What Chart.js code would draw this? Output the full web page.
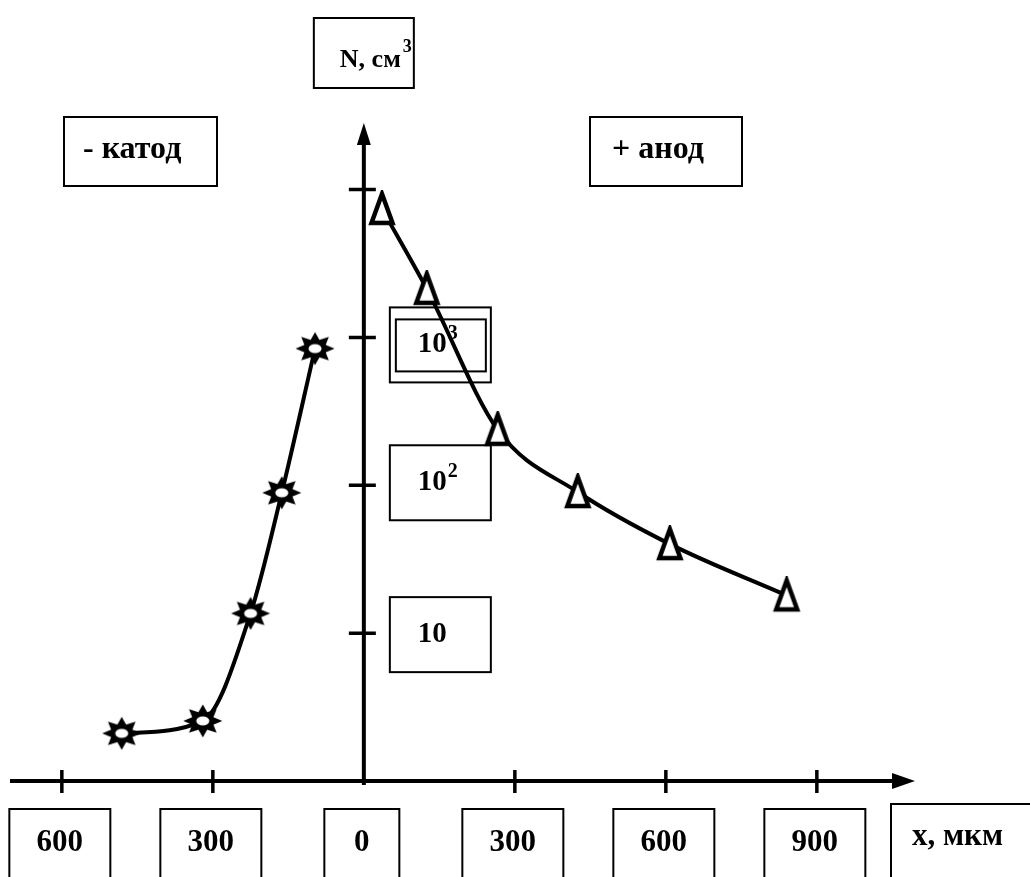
<!DOCTYPE html>
<html>
<head>
<meta charset="utf-8">
<script src="https://cdn.jsdelivr.net/npm/chart.js@4.4.0/dist/chart.umd.min.js"></script>
<style>
  html, body { margin: 0; padding: 0; background: #fff; }
  #wrap { width: 1030px; height: 877px; position: relative; }
</style>
</head>
<body>
<div id="wrap"><canvas id="chart"></canvas></div>
<script>
// x in мкм (cathode side is negative), N per cm3 (log axis)
const cathodeX = [-481, -320, -225, -163, -97];
const cathodeN = [2.1, 2.55, 13.6, 89, 840];
const anodeX = [36, 125, 266, 425, 608, 840];
const anodeN = [7400, 2130, 237, 90, 40, 18];

const xTickValues = [-600, -300, 0, 300, 600, 900];
const xTickLabels = ['600', '300', '0', '300', '600', '900'];
const yTickValues = [10, 100, 1000, 10000];
const yTickBase = ['10', '10', '10', ''];
const yTickExp = ['', '2', '3', ''];

const FONT = '"Liberation Serif", "Times New Roman", serif';

function makeStar() {
    const c = document.createElement('canvas');
    c.width = 46; c.height = 40;
    const g = c.getContext('2d');
    const cx = 23, cy = 20;
    g.beginPath();
    for (let i = 0; i < 16; i++) {
        const a = -Math.PI / 2 + i * Math.PI / 8;
        const rx = i % 2 ? 11.5 : 19.5, ry = i % 2 ? 9.5 : 16.5;
        const px = cx + rx * Math.cos(a), py = cy + ry * Math.sin(a);
        if (i) g.lineTo(px, py); else g.moveTo(px, py);
    }
    g.closePath();
    g.fillStyle = '#000';
    g.fill();
    g.beginPath();
    g.ellipse(cx, cy, 6.5, 4.5, 0, 0, 2 * Math.PI);
    g.fillStyle = '#fff';
    g.fill();
    return c;
}

function makeTriangle() {
    const c = document.createElement('canvas');
    c.width = 30; c.height = 38;
    const g = c.getContext('2d');
    g.beginPath();
    g.moveTo(15, 4); g.lineTo(4.5, 33); g.lineTo(25.5, 33);
    g.closePath();
    g.fillStyle = '#fff';
    g.fill();
    g.lineWidth = 4.5;
    g.strokeStyle = '#000';
    g.stroke();
    return c;
}

function box(ctx, x, y, w, h) {
    ctx.lineWidth = 2;
    ctx.strokeRect(x, y, w, h);
}

const decor = {
    id: 'decor',
    beforeDatasetsDraw(chart) {
        const ctx = chart.ctx;
        const xs = chart.scales.x, ys = chart.scales.y;
        const area = chart.chartArea;
        const x0 = xs.getPixelForValue(0);
        const yb = ys.getPixelForValue(ys.min);
        ctx.save();
        ctx.strokeStyle = '#000';
        ctx.fillStyle = '#000';

        // axes with arrows
        ctx.lineWidth = 4;
        ctx.beginPath();
        ctx.moveTo(area.left, yb); ctx.lineTo(area.right - 16, yb);
        ctx.moveTo(x0, yb + 4); ctx.lineTo(x0, area.top + 16);
        ctx.stroke();
        ctx.beginPath();
        ctx.moveTo(area.right, yb); ctx.lineTo(area.right - 23, yb - 8); ctx.lineTo(area.right - 23, yb + 8);
        ctx.closePath(); ctx.fill();
        ctx.beginPath();
        ctx.moveTo(x0, area.top); ctx.lineTo(x0 - 7, area.top + 22); ctx.lineTo(x0 + 7, area.top + 22);
        ctx.closePath(); ctx.fill();

        // tick marks
        ctx.lineWidth = 3.5;
        ctx.beginPath();
        xTickValues.forEach(v => {
            if (v === 0) return;
            const px = xs.getPixelForValue(v);
            ctx.moveTo(px, yb - 11); ctx.lineTo(px, yb + 12);
        });
        yTickValues.forEach(v => {
            const py = ys.getPixelForValue(v);
            ctx.moveTo(x0 - 15, py); ctx.lineTo(x0 + 12, py);
        });
        ctx.stroke();

        // x labels in boxes
        ctx.textBaseline = 'alphabetic';
        xTickValues.forEach((v, i) => {
            const px = xs.getPixelForValue(v) - 2;
            const w = xTickLabels[i] === '0' ? 75 : 101;
            const top = yb + 28;
            box(ctx, px - w / 2, top, w, chart.height - top + 10);
            ctx.font = 'bold 31px ' + FONT;
            ctx.textAlign = 'center';
            ctx.fillText(xTickLabels[i], px, top + 42);
        });
        box(ctx, area.right - 24, yb + 23, 200, 120);
        ctx.font = 'bold 31px ' + FONT;
        ctx.textAlign = 'left';
        ctx.fillText('x, мкм', area.right - 3, yb + 64);

        // y labels in boxes
        const yOff = { 10: -36, 100: -40, 1000: -30 };
        yTickValues.forEach((v, i) => {
            if (!yTickBase[i]) return;
            const py = ys.getPixelForValue(v);
            const left = x0 + 26, top = py + yOff[v];
            box(ctx, left, top, 101, 75);
            if (v === 1000) box(ctx, left + 6, top + 12, 90, 52);
            ctx.font = 'bold 29px ' + FONT;
            ctx.textAlign = 'left';
            ctx.fillText(yTickBase[i], left + 28, top + 45);
            if (yTickExp[i]) {
                const w = ctx.measureText(yTickBase[i]).width;
                ctx.font = 'bold 20px ' + FONT;
                ctx.fillText(yTickExp[i], left + 29 + w, top + 32);
            }
        });

        // axis title and electrode labels
        box(ctx, x0 - 50, 18, 100, 70);
        ctx.font = 'bold 26px ' + FONT;
        ctx.fillText('N, см', x0 - 24, 67);
        const nw = ctx.measureText('N, см').width;
        ctx.font = 'bold 18px ' + FONT;
        ctx.fillText('3', x0 - 22 + nw, 52);

        ctx.font = 'bold 32px ' + FONT;
        box(ctx, 64, 117, 153, 69);
        ctx.fillText('- катод', 83, 158);
        box(ctx, 590, 117, 152, 69);
        ctx.fillText('+ анод', 612, 158);
        ctx.restore();
    }
};

const starImg = makeStar();
const triImg = makeTriangle();

new Chart(document.getElementById('chart'), {
    type: 'line',
    data: {
        datasets: [{
            label: 'катод',
            data: cathodeX.map((x, i) => ({ x: x, y: cathodeN[i] })),
            borderColor: '#000',
            borderWidth: 4,
            cubicInterpolationMode: 'monotone',
            pointStyle: starImg,
            pointRadius: 12,
            fill: false
        }, {
            label: 'анод',
            data: anodeX.map((x, i) => ({ x: x, y: anodeN[i] })),
            borderColor: '#000',
            borderWidth: 4,
            cubicInterpolationMode: 'monotone',
            pointStyle: triImg,
            pointRadius: 12,
            fill: false
        }]
    },
    options: {
        responsive: true,
        maintainAspectRatio: false,
        animation: false,
        events: [],
        layout: { autoPadding: false, padding: { left: 10, right: 115, top: 123, bottom: 96 } },
        scales: {
            x: { type: 'linear', min: -703, max: 1095, display: false },
            y: { type: 'logarithmic', min: 1, max: Math.pow(10, 4.45), display: false }
        },
        plugins: { legend: { display: false }, tooltip: { enabled: false } }
    },
    plugins: [decor]
});
</script>
</body>
</html>
